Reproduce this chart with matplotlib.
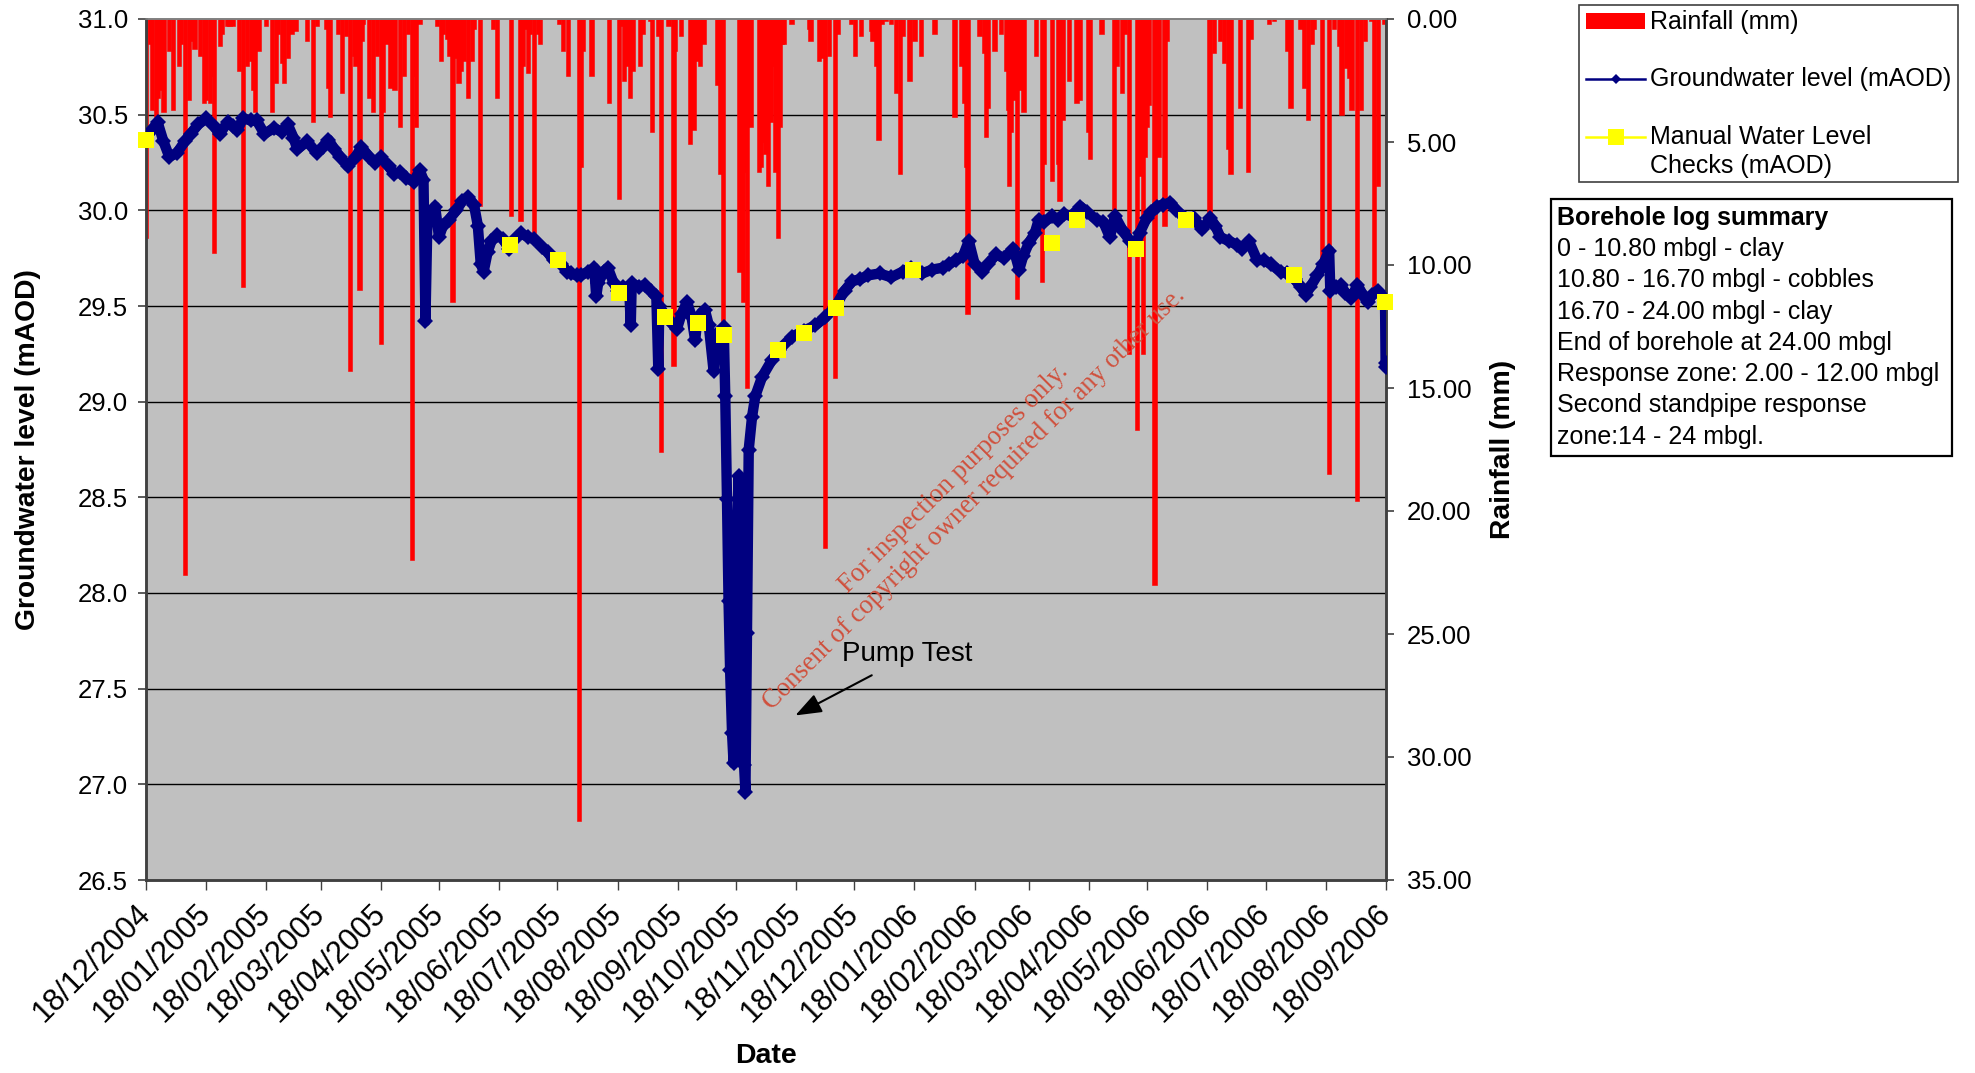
import numpy as np
import pandas as pd
import matplotlib
matplotlib.use("Agg")
import matplotlib.pyplot as plt
import matplotlib.dates as mdates
from matplotlib.patches import Rectangle
from matplotlib.lines import Line2D
from matplotlib.transforms import blended_transform_factory

plt.rcParams['font.family'] = ['Liberation Sans', 'DejaVu Sans']

START = pd.Timestamp('2004-12-18')
END = pd.Timestamp('2006-09-18')

# Groundwater level logger record: (days after 18/12/2004, mAOD)
gw_record = [
    (0, 30.38), (3, 30.42), (6, 30.46), (9, 30.36), (12, 30.28), (16, 30.30), (20, 30.36),
    (23, 30.40), (27, 30.45), (31, 30.48), (35, 30.44), (38, 30.40), (42, 30.46), (45, 30.44),
    (47, 30.42), (50, 30.48), (54, 30.47), (57, 30.47), (61, 30.40), (66, 30.43), (70, 30.41),
    (73, 30.45), (76, 30.38), (78, 30.32), (83, 30.36), (88, 30.30), (91, 30.33), (94, 30.37),
    (97, 30.32), (100, 30.28), (104, 30.23), (108, 30.28), (111, 30.33), (115, 30.28),
    (118, 30.25), (121, 30.28), (125, 30.23), (128, 30.19), (131, 30.20), (134, 30.17),
    (138, 30.15), (141, 30.21), (143, 30.16), (144, 29.42), (145, 29.95), (147, 29.98),
    (149, 30.02), (151, 29.86), (153, 29.92), (156, 29.95), (160, 30.00), (163, 30.05),
    (166, 30.07), (169, 30.03), (171, 29.92), (172.5, 29.72), (174, 29.68), (176, 29.78),
    (178, 29.84), (181, 29.87), (184, 29.85), (187, 29.80), (189, 29.84), (193, 29.88),
    (197, 29.86), (200, 29.85), (204, 29.81), (207, 29.78), (210, 29.74), (214, 29.72),
    (217, 29.68), (219, 29.67), (222, 29.66), (224, 29.66), (228, 29.68), (231, 29.70),
    (232, 29.55), (233, 29.62), (236, 29.68), (238, 29.70), (241, 29.62), (243, 29.58),
    (246, 29.60), (249, 29.60), (249.8, 29.40), (250.3, 29.62), (254, 29.60), (257, 29.61),
    (260, 29.58), (263, 29.55), (264, 29.17), (264.5, 29.50), (267, 29.46), (270, 29.42),
    (273.6, 29.38), (276, 29.46), (278.8, 29.52), (281, 29.45), (283, 29.32), (284, 29.42),
    (286, 29.46), (288, 29.48), (290, 29.40), (292.5, 29.16), (293.5, 29.30), (295, 29.36),
    (297.7, 29.39), (298.5, 29.03), (299.4, 28.49), (300.2, 27.96), (301, 27.60),
    (302, 27.27), (302.8, 27.11), (303.7, 27.61), (304.5, 28.31), (305.4, 28.61),
    (306.1, 28.30), (306.8, 27.96), (307.6, 27.35), (308.2, 27.10), (308.9, 26.96),
    (309.7, 27.79), (310.6, 28.75), (312.3, 28.92), (314, 29.03), (317.5, 29.13),
    (322.7, 29.22), (326.1, 29.27), (333, 29.34), (339, 29.37), (345, 29.40), (350, 29.44),
    (355.4, 29.50), (360, 29.58), (364, 29.63), (368, 29.64), (372, 29.66), (378, 29.67),
    (384, 29.65), (390, 29.68), (394, 29.70), (400, 29.67), (405, 29.69), (410.5, 29.70),
    (414, 29.72), (417.4, 29.74), (421, 29.76), (424, 29.84), (427, 29.72), (431, 29.68),
    (434, 29.72), (438, 29.77), (442, 29.75), (447, 29.80), (450, 29.69), (452, 29.76),
    (455, 29.83), (458, 29.88), (460, 29.95), (463, 29.94), (467, 29.97), (470, 29.95),
    (473, 29.98), (477, 29.97), (481.5, 30.02), (485, 29.99), (490, 29.95), (493.3, 29.94),
    (496.7, 29.86), (499.3, 29.97), (503.6, 29.89), (507, 29.84), (509.7, 29.81),
    (512, 29.88), (515.7, 29.96), (518, 29.99), (520.9, 30.02), (524, 30.03), (527.8, 30.04),
    (531, 30.00), (535.5, 29.96), (540, 29.96), (544.2, 29.90), (548.5, 29.96), (551, 29.92),
    (553.6, 29.86), (558, 29.84), (562.3, 29.82), (565, 29.80), (568.3, 29.84),
    (572.6, 29.74), (576, 29.74), (579.5, 29.72), (584.7, 29.68), (588, 29.67), (592, 29.64),
    (595, 29.60), (597.6, 29.56), (600, 29.60), (603.6, 29.66), (606.7, 29.72),
    (609.7, 29.79), (610.3, 29.58), (613, 29.60), (615.7, 29.61), (618, 29.57),
    (620.9, 29.54), (624.3, 29.61), (627, 29.56), (629.5, 29.52), (632, 29.56),
    (634.7, 29.58), (637, 29.55), (638.5, 29.53), (638.8, 29.20), (639, 29.18),
]

# Manual dip readings: (days after 18/12/2004, mAOD)
check_record = [
    (0, 30.37), (187.4, 29.82), (212.5, 29.74), (243.7, 29.57), (267.5, 29.44),
    (284.7, 29.41), (297.6, 29.35), (325.7, 29.27), (339, 29.36), (355.4, 29.49),
    (395, 29.69), (467, 29.83), (480, 29.95), (510, 29.80), (536, 29.95), (591.6, 29.66),
    (638.5, 29.52),
]

# Daily rainfall: (days after 18/12/2004, mm)
rain_record = [
    (0, 8.9), (2, 1.0), (3, 3.7), (5, 4.0), (6, 3.2), (8, 2.9), (9, 3.8), (12, 1.3),
    (14, 3.7), (17, 1.9), (18, 1.0), (20, 22.6), (22, 3.3), (24, 0.9), (25, 1.2), (28, 1.5),
    (30, 3.4), (31, 3.3), (33, 3.4), (34, 2.3), (35, 9.5), (38, 1.1), (39, 0.6), (42, 0.3),
    (43, 0.3), (45, 0.3), (48, 2.1), (50, 10.9), (52, 1.9), (54, 1.7), (55, 2.9), (56, 3.8),
    (58, 1.3), (62, 0.3), (65, 3.8), (67, 2.6), (68, 0.6), (70, 1.8), (71, 2.6), (73, 1.6),
    (75, 0.6), (77, 0.5), (83, 0.9), (86, 4.2), (88, 0.3), (93, 0.4), (94, 2.8), (95, 4.0),
    (99, 0.6), (101, 3.0), (103, 0.7), (105, 14.3), (107, 1.5), (108, 1.9), (110, 11.0),
    (111, 0.9), (112, 0.2), (115, 3.2), (117, 3.8), (119, 1.5), (121, 13.2), (122, 3.8),
    (124, 1.0), (126, 2.8), (128, 2.9), (131, 4.4), (133, 2.3), (135, 0.6), (137, 22.0),
    (138, 2.3), (139, 4.4), (141, 0.2), (150, 0.3), (152, 1.7), (153, 0.6), (155, 0.8),
    (156, 1.5), (158, 11.5), (160, 1.6), (161, 2.6), (162, 2.1), (164, 1.7), (166, 3.2),
    (168, 1.7), (169, 0.4), (172, 7.6), (179, 0.4), (181, 3.2), (188, 8.0), (193, 8.2),
    (194, 1.9), (195, 0.4), (197, 2.2), (198, 0.6), (200, 8.7), (202, 0.6), (203, 1.0),
    (213, 0.2), (215, 1.3), (217.5, 2.3), (223, 32.6), (224, 6.0), (225, 1.3), (229.6, 2.3),
    (238.5, 3.4), (243.8, 7.3), (244.5, 0.3), (246.5, 2.5), (247.7, 1.9), (249.4, 3.2),
    (251.1, 2.1), (254.6, 1.9), (256.3, 0.6), (259.7, 0.1), (260.7, 4.6), (264, 0.7),
    (265.5, 17.6), (269.2, 0.3), (271.9, 14.1), (272.7, 1.3), (275.8, 0.7), (280.4, 5.1),
    (282.1, 4.5), (283.9, 1.7), (285.6, 1.9), (287.3, 1.0), (294.2, 2.7), (296, 6.3),
    (297.2, 14.8), (305.8, 10.3), (307.7, 11.5), (308.7, 6.2), (309.8, 15.0), (311.5, 4.4),
    (315.8, 6.2), (317, 6.0), (318, 5.0), (319, 5.5), (320.5, 6.8), (322, 4.2), (323, 1.9),
    (324.4, 6.2), (325.8, 8.9), (326.8, 4.4), (327.8, 1.0), (328.5, 1.0), (332.7, 0.2),
    (341.6, 0.4), (342.5, 0.9), (346.8, 1.7), (348.5, 1.6), (350, 21.5), (352, 1.5),
    (355, 14.6), (356.3, 0.6), (363.2, 0.2), (365.4, 1.5), (368.4, 0.7), (373.5, 0.5),
    (374.4, 0.9), (376.1, 1.9), (377.5, 4.9), (379.2, 0.2), (381.3, 0.1), (383.9, 0.2),
    (386.5, 3.0), (388.5, 6.3), (389.9, 0.7), (393.4, 2.5), (396, 0.9), (399.4, 1.5),
    (406.3, 0.6), (416.6, 4.0), (420, 1.9), (421.7, 3.4), (422.6, 6.0), (423.4, 12.0),
    (429.5, 0.7), (432.1, 1.4), (432.9, 4.8), (433.8, 3.6), (437.2, 1.3), (440.7, 0.6),
    (443.3, 2.1), (444.1, 3.7), (444.6, 6.8), (445.8, 4.6), (446.7, 2.9), (447.6, 3.3),
    (448.8, 11.4), (450.2, 2.9), (452.2, 3.8), (458.8, 1.5), (461.7, 10.7), (462.5, 5.9),
    (466.9, 6.6), (470, 5.9), (470.8, 7.4), (472.6, 4.1), (475.7, 2.5), (479.5, 3.4),
    (481.2, 3.3), (485.5, 4.6), (486.4, 5.7), (492.4, 0.6), (498.8, 7.9), (500.2, 1.9),
    (502.8, 3.0), (504.5, 0.6), (506.7, 13.6), (510.5, 16.7), (512.3, 6.4), (513.6, 13.6),
    (514.7, 5.6), (516, 4.4), (517, 3.5), (519.7, 23.0), (520.9, 1.8), (521.7, 5.6),
    (524.9, 8.4), (526, 0.9), (548.1, 7.9), (550.2, 1.4), (553.6, 0.9), (555.7, 1.8),
    (557.9, 5.3), (558.8, 6.3), (563.6, 3.6), (567.8, 6.2), (569.2, 0.8), (578.6, 0.2),
    (581.2, 0.1), (588.1, 1.3), (589.8, 3.6), (595, 0.4), (596.7, 2.8), (598.8, 4.1),
    (601, 1.0), (602, 0.4), (606.2, 9.8), (609.7, 18.5), (612.3, 0.4), (614.9, 1.1),
    (616.1, 3.9), (618.3, 2.0), (620, 2.4), (621.2, 3.7), (624, 19.6), (626.1, 3.7),
    (628.1, 0.9), (631.2, 0.1), (633, 11.3), (634.7, 6.8), (637.8, 0.2), (639.5, 6.1),
]

gw_ticks = np.arange(26.5, 31.01, 0.5)
rain_ticks = np.arange(0, 35.01, 5)

log_title = "Borehole log summary"
log_lines = ["0 - 10.80 mbgl - clay",
             "10.80 - 16.70 mbgl - cobbles",
             "16.70 - 24.00 mbgl - clay",
             "End of borehole at 24.00 mbgl",
             "Response zone: 2.00 - 12.00 mbgl",
             "Second standpipe response",
             "zone:14 - 24 mbgl."]

gw_day, gw_level = zip(*gw_record)
check_day, check_level = zip(*check_record)
rain_day, rain_mm = zip(*rain_record)

gw_dates = START + pd.to_timedelta(gw_day, unit='D')
check_dates = START + pd.to_timedelta(check_day, unit='D')
rain_dates = START + pd.to_timedelta(rain_day, unit='D')

W, H = 1975, 1073
fig = plt.figure(figsize=(W / 100, H / 100), dpi=100)
fig.patch.set_facecolor('white')


def fx(x):
    return x / W


def fy(y):
    return 1 - y / H


L, R, T, B = 146, 1386, 19, 880
ax = fig.add_axes([fx(L), fy(B), fx(R) - fx(L), fy(T) - fy(B)])
ax2 = ax.twinx()

# rainfall axis sits underneath and carries the grey plot area
ax.set_zorder(ax2.get_zorder() + 1)
ax.patch.set_visible(False)
ax2.patch.set_visible(True)
ax2.patch.set_facecolor('#c0c0c0')

ax.set_ylim(26.5, 31.0)
ax.set_xlim(START, END)
ax2.set_ylim(35, 0)

# horizontal gridlines at the groundwater ticks, drawn behind the bars
grid_tr = blended_transform_factory(ax2.transAxes, ax.transData)
for lev in gw_ticks[1:-1]:
    ax2.add_line(Line2D([0, 1], [lev, lev], transform=grid_tr, color='black',
                        lw=1.0, zorder=0.5))

ax2.bar(rain_dates, rain_mm, width=2.2, color='#ff0000', edgecolor='#ff0000',
        linewidth=0.4, align='center', zorder=2)

ax.plot(gw_dates, gw_level, color='#000080', lw=7.5, marker='D', ms=8, mew=0,
        solid_joinstyle='round', solid_capstyle='round', zorder=3)
ax.plot(check_dates, check_level, ls='none', marker='s', ms=11.5, color='#ffff00',
        mew=0, zorder=4, clip_on=False)

# axes formatting
ax.set_yticks(gw_ticks)
ax.set_yticklabels([f"{v:.1f}" for v in gw_ticks])
ax2.set_yticks(rain_ticks)
ax2.set_yticklabels([f"{v:.2f}" for v in rain_ticks])

ax.xaxis.set_major_locator(mdates.MonthLocator(bymonthday=18))
ax.xaxis.set_major_formatter(mdates.DateFormatter('%d/%m/%Y'))
for lab in ax.get_xticklabels():
    lab.set_rotation(45)
    lab.set_ha('right')
    lab.set_va('center')
    lab.set_rotation_mode('anchor')

ax.tick_params(axis='y', labelsize=18.5, length=6, width=1.2, color='#404040', pad=7)
ax.tick_params(axis='x', labelsize=22, length=7, width=1.0, color='#404040', pad=14)
ax2.tick_params(axis='y', labelsize=18.5, length=6, width=1.2, color='#404040', pad=9)

for a in (ax, ax2):
    a.spines['top'].set_color('#808080')
    a.spines['top'].set_linewidth(1.2)
    for s in ('left', 'right', 'bottom'):
        a.spines[s].set_color('#404040')
        a.spines[s].set_linewidth(1.8)

ax.set_ylabel("Groundwater level (mAOD)", fontsize=20.3, fontweight='bold', va='center')
ax.yaxis.set_label_coords((28 - L) / (R - L), 0.5)
ax2.set_ylabel("Rainfall (mm)", fontsize=20.3, fontweight='bold', rotation=90, va='center')
ax2.yaxis.set_label_coords((1503 - L) / (R - L), 0.5)
ax.set_xlabel("Date", fontsize=20.5, fontweight='bold', va='center')
ax.xaxis.set_label_coords(0.5, (B - 1056) / (B - T))

# pump test annotation
ax.annotate("", xy=(START + pd.Timedelta(days=334.6), 27.36),
            xytext=(START + pd.Timedelta(days=374), 27.57),
            arrowprops=dict(arrowstyle='-|>,head_length=1.6,head_width=0.6',
                            color='black', lw=1.5, shrinkA=0, shrinkB=0),
            zorder=6)
ax.text(START + pd.Timedelta(days=358.8), 27.68, "Pump Test", fontsize=20,
        ha='left', va='center', zorder=6)

# watermark
ax.text(0.660, 0.454, "For inspection purposes only.\n"
        "Consent of copyright owner required for any other use.",
        transform=ax.transAxes, rotation=45, rotation_mode='anchor',
        ha='center', va='center', multialignment='center',
        fontsize=19.2, family=['Liberation Serif', 'DejaVu Serif'],
        color='#d0503c', zorder=7)

# legend box
fig.patches.append(Rectangle((fx(1579), fy(182)), fx(1958) - fx(1579), fy(5) - fy(182),
                             transform=fig.transFigure, fill=False, ec='#404040', lw=1.2))
fig.patches.append(Rectangle((fx(1586), fy(29)), fx(1645) - fx(1586), fy(13) - fy(29),
                             transform=fig.transFigure, fc='#ff0000', ec='none'))
fig.lines.append(Line2D([fx(1586), fx(1616), fx(1645)], [fy(79)] * 3,
                        transform=fig.transFigure, color='#000080', lw=1.8,
                        marker='D', ms=5, markevery=[1], mew=0))
fig.lines.append(Line2D([fx(1586), fx(1616), fx(1645)], [fy(137)] * 3,
                        transform=fig.transFigure, color='#ffff00', lw=1.8,
                        marker='s', ms=11, markevery=[1], mew=0))
fig.text(fx(1650), fy(22), "Rainfall (mm)", fontsize=18, va='center', ha='left')
fig.text(fx(1650), fy(79), "Groundwater level (mAOD)", fontsize=18, va='center', ha='left')
fig.text(fx(1650), fy(137), "Manual Water Level", fontsize=18, va='center', ha='left')
fig.text(fx(1650), fy(166), "Checks (mAOD)", fontsize=18, va='center', ha='left')

# borehole log box
fig.patches.append(Rectangle((fx(1551), fy(456)), fx(1952) - fx(1551), fy(199) - fy(456),
                             transform=fig.transFigure, fill=False, ec='black', lw=1.6))
fig.text(fx(1557), fy(218), log_title, fontsize=18, fontweight='bold', va='center', ha='left')
for i, line in enumerate(log_lines):
    fig.text(fx(1557), fy(249 + i * 31.3), line, fontsize=18, va='center', ha='left')

fig.savefig("out.png", dpi=100)
